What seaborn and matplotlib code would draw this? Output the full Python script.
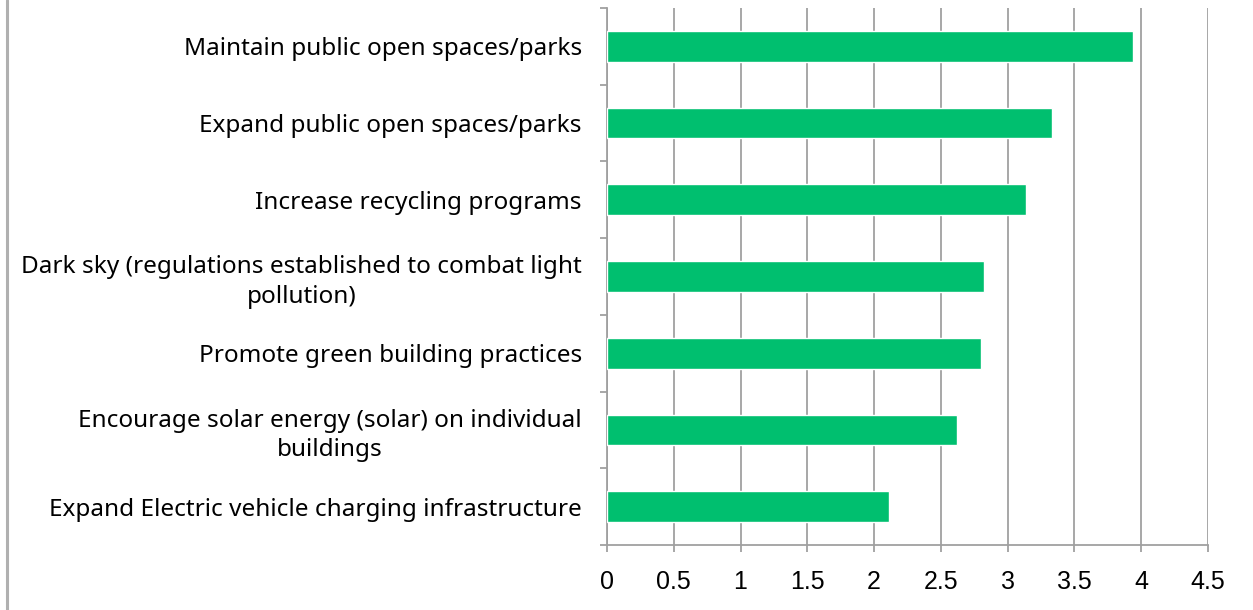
import matplotlib
matplotlib.use("Agg")
import matplotlib.pyplot as plt
from matplotlib.lines import Line2D
from matplotlib.ticker import FixedLocator
import seaborn as sns
import pandas as pd

categories = [
    "Maintain public open spaces/parks",
    "Expand public open spaces/parks",
    "Increase recycling programs",
    "Dark sky (regulations established to combat light\npollution)",
    "Promote green building practices",
    "Encourage solar energy (solar) on individual\nbuildings",
    "Expand Electric vehicle charging infrastructure",
]
scores = [3.94, 3.33, 3.14, 2.82, 2.80, 2.62, 2.11]
x_ticks = [0, 0.5, 1, 1.5, 2, 2.5, 3, 3.5, 4, 4.5]
x_tick_labels = ["0", "0.5", "1", "1.5", "2", "2.5", "3", "3.5", "4", "4.5"]

bar_color = "#00BF6F"
grid_color = "#A0A0A0"

sns.set_style("white")
plt.rcParams["font.family"] = ["Noto Sans", "DejaVu Sans"]
plt.rcParams["text.color"] = "black"
plt.rcParams["xtick.labelcolor"] = "black"
plt.rcParams["ytick.labelcolor"] = "black"

df = pd.DataFrame({"item": categories, "score": scores})

fig = plt.figure(figsize=(12.53, 6.10), dpi=100)
ax = fig.add_axes([0.4844, 0.1066, 0.4797, 0.8803])

sns.barplot(data=df, x="score", y="item", orient="h", color=bar_color,
            width=0.4, saturation=1, ax=ax, zorder=3)

ax.set_xlim(0, 4.5)
ax.set_ylim(len(categories) - 0.5, -0.5)
ax.set_xlabel("")
ax.set_ylabel("")

# vertical gridlines at each half unit
ax.xaxis.set_major_locator(FixedLocator(x_ticks))
ax.set_xticklabels(x_tick_labels, family="Liberation Sans", fontsize=18, color="black")
ax.grid(axis="x", color=grid_color, linewidth=1.3, zorder=0)
ax.set_axisbelow(True)

# spines
for side in ("top", "right"):
    ax.spines[side].set_visible(False)
for side in ("left", "bottom"):
    ax.spines[side].set_color(grid_color)
    ax.spines[side].set_linewidth(1.3)

ax.tick_params(axis="x", direction="out", length=5, width=1.3, color=grid_color,
               pad=13, bottom=True)
ax.tick_params(axis="y", which="major", length=0, pad=18)
for lbl in ax.get_yticklabels():
    lbl.set_fontsize(17.5)
    lbl.set_color("black")
    lbl.set_multialignment("center")
    lbl.set_linespacing(1.3)

# category boundary ticks on the value axis
ax.yaxis.set_minor_locator(FixedLocator([i - 0.5 for i in range(len(categories) + 1)]))
ax.tick_params(axis="y", which="minor", direction="out", length=5, width=1.3,
               color=grid_color, left=True)

# outer frame line on the left
fig.add_artist(Line2D([0.0053, 0.0053], [0, 1], transform=fig.transFigure,
                      color="#B0B0B0", linewidth=2.2))

fig.savefig("out.png", dpi=100)
